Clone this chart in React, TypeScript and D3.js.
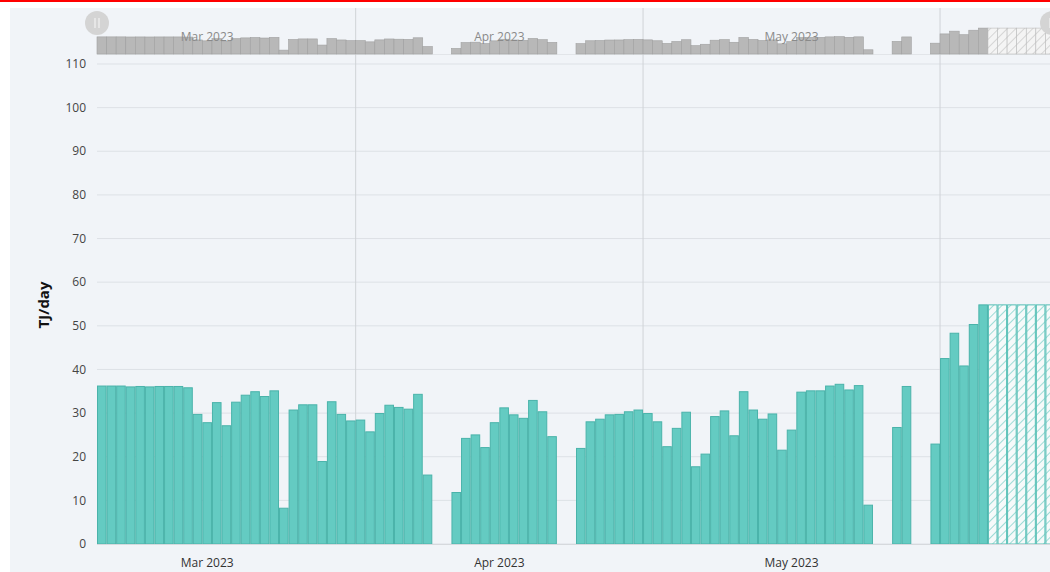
import React from 'react';
import * as d3 from 'd3';

// daily values, first value is 5 Mar 2023, null = no flow that day
const marchValues = [36.2, 36.2, 36.2, 36.0, 36.1, 36.0, 36.1, 36.1, 36.1, 35.8, 29.7, 27.8, 32.4, 27.1, 32.5, 34.1, 34.9, 33.8, 35.1, 8.2, 30.7, 31.9, 31.9, 18.9, 32.6, 29.7, 28.2];
const aprilValues = [28.4, 25.7, 29.9, 31.8, 31.3, 30.9, 34.3, 15.8, null, null, 11.8, 24.2, 25.0, 22.1, 27.8, 31.2, 29.6, 28.8, 32.9, 30.3, 24.6, null, null, 21.9, 28.0, 28.6, 29.6, 29.7, 30.3, 30.7];
const mayValues = [29.9, 28.0, 22.3, 26.5, 30.2, 17.7, 20.6, 29.2, 30.5, 24.8, 34.9, 30.7, 28.6, 29.8, 21.5, 26.1, 34.8, 35.1, 35.1, 36.2, 36.6, 35.3, 36.3, 8.9, null, null, 26.7, 36.1, null, null, 22.9];
const juneValues = [42.5, 48.3, 40.8, 50.3, 54.8];
const forecastValues = [54.8, 54.8, 54.8, 54.8, 54.8, 54.8, 54.8];

const yTicks = [0, 10, 20, 30, 40, 50, 60, 70, 80, 90, 100, 110];
const monthStarts = [new Date(2023, 3, 1), new Date(2023, 4, 1), new Date(2023, 5, 1)];
const monthLabels = [
  { label: 'Mar 2023', from: new Date(2023, 2, 1), to: new Date(2023, 3, 1) },
  { label: 'Apr 2023', from: new Date(2023, 3, 1), to: new Date(2023, 4, 1) },
  { label: 'May 2023', from: new Date(2023, 4, 1), to: new Date(2023, 5, 1) },
];

const startDate = new Date(2023, 2, 5);
const dayAfter = (d: Date, n: number) => new Date(d.getFullYear(), d.getMonth(), d.getDate() + n);

const actual = [...marchValues, ...aprilValues, ...mayValues, ...juneValues].map((v, i) => ({
  date: dayAfter(startDate, i), value: v,
}));
const forecast = forecastValues.map((v, i) => ({
  date: dayAfter(startDate, actual.length + i), value: v,
}));

const W = 1050;
const H = 572;
const left = 97;
const dayW = 9.58;
const font = '"Open Sans", "Noto Sans", sans-serif';

const App: React.FC = () => {
  const x = d3.scaleTime()
    .domain([startDate, dayAfter(startDate, 110)])
    .range([left, left + 110 * dayW]);
  const y = d3.scaleLinear().domain([0, 110]).range([544, 64]);
  const yNav = d3.scaleLinear().domain([0, 55]).range([54, 28]);

  const bw = (d: Date) => x(dayAfter(d, 1)) - x(d);
  const mid = (a: Date, b: Date) => x(new Date((a.getTime() + b.getTime()) / 2));

  return (
    <div style={{ position: 'absolute', left: 0, top: 0, width: W, height: H, background: '#fff' }}>
      <svg width={W} height={H} style={{ display: 'block' }}>
        <defs>
          <pattern id="hatch" patternUnits="userSpaceOnUse" width="6" height="6" patternTransform="rotate(45)">
            <rect width="6" height="6" fill="#f6fafa" />
            <line x1="0" y1="0" x2="0" y2="6" stroke="#6ccbc3" strokeWidth="1.3" />
          </pattern>
          <pattern id="hatchNav" patternUnits="userSpaceOnUse" width="6" height="6" patternTransform="rotate(45)">
            <rect width="6" height="6" fill="#f4f4f4" />
            <line x1="0" y1="0" x2="0" y2="6" stroke="#c4c4c4" strokeWidth="1.3" />
          </pattern>
        </defs>

        <rect x={0} y={0} width={W} height={2} fill="#ff0000" />
        <rect x={10} y={8} width={W - 10} height={H - 8} fill="#f1f4f8" />

        {/* horizontal grid + y labels */}
        {yTicks.map(t => (
          <g key={t}>
            <line x1={left} x2={W} y1={y(t)} y2={y(t)} stroke="#dde1e6" strokeWidth={1} />
            <text x={86} y={y(t)} dy="0.35em" textAnchor="end" fontSize={12} fill="#444" fontFamily={font}>{t}</text>
          </g>
        ))}

        {/* month start grid lines */}
        {monthStarts.map((d, i) => (
          <line key={i} x1={x(d)} x2={x(d)} y1={8} y2={544} stroke="#d0d3d7" strokeWidth={1} />
        ))}

        {/* navigator */}
        <line x1={left} x2={W} y1={54.5} y2={54.5} stroke="#e2e5e9" />
        {actual.filter(d => d.value != null).map((d, i) => (
          <rect key={'n' + i} x={x(d.date)} y={yNav(d.value as number)} width={bw(d.date)}
            height={yNav(0) - yNav(d.value as number)} fill="#b8b8b8" stroke="#a0a0a0" strokeWidth={0.6} />
        ))}
        {forecast.map((d, i) => (
          <rect key={'nf' + i} x={x(d.date)} y={yNav(d.value)} width={bw(d.date)}
            height={yNav(0) - yNav(d.value)} fill="url(#hatchNav)" stroke="#bcbcbc" strokeWidth={0.6} />
        ))}
        {monthLabels.map(m => (
          <text key={'nl' + m.label} x={mid(m.from, m.to)} y={37} dy="0.35em" textAnchor="middle"
            fontSize={12} fill="#8a8a8a" fontFamily={font}>{m.label}</text>
        ))}
        {[left, W + 2].map((cx, i) => (
          <g key={'h' + i}>
            <circle cx={cx} cy={23} r={12} fill="#d4d4d4" />
            <line x1={cx - 2} x2={cx - 2} y1={18} y2={28} stroke="#f2f2f2" strokeWidth={1.2} />
            <line x1={cx + 2} x2={cx + 2} y1={18} y2={28} stroke="#f2f2f2" strokeWidth={1.2} />
          </g>
        ))}

        {/* main bars */}
        {actual.filter(d => d.value != null).map((d, i) => (
          <rect key={'b' + i} x={x(d.date) + 0.5} y={y(d.value as number)} width={bw(d.date) - 1}
            height={y(0) - y(d.value as number)} fill="#64cbc2" stroke="#4ab3aa" strokeWidth={1} />
        ))}
        {forecast.map((d, i) => (
          <rect key={'f' + i} x={x(d.date) + 0.5} y={y(d.value)} width={bw(d.date) - 1}
            height={y(0) - y(d.value)} fill="url(#hatch)" stroke="#55bfb5" strokeWidth={1} />
        ))}

        <line x1={left} x2={W} y1={544.5} y2={544.5} stroke="#d6d9dd" />

        {monthLabels.map(m => (
          <text key={'l' + m.label} x={mid(m.from, m.to)} y={563} dy="0.35em" textAnchor="middle"
            fontSize={12} fill="#333" fontFamily={font}>{m.label}</text>
        ))}

        <text transform="translate(44,305) rotate(-90)" textAnchor="middle" dy="0.35em"
          fontSize={15} fontWeight="bold" fill="#111" fontFamily={font}>TJ/day</text>
      </svg>
    </div>
  );
};

export default App;
